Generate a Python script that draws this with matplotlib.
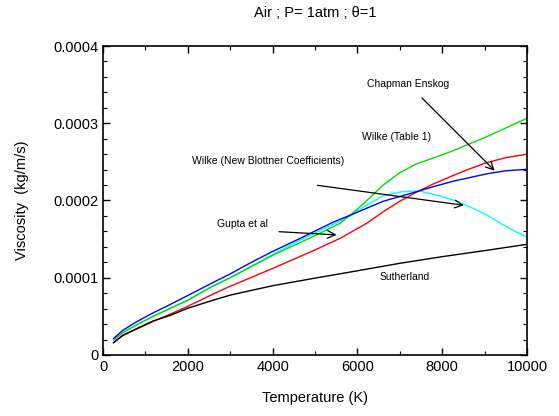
import matplotlib
matplotlib.use("Agg")
import matplotlib.pyplot as plt
from matplotlib.ticker import MultipleLocator, FuncFormatter

plt.rcParams['font.family'] = ['Liberation Sans', 'DejaVu Sans']

# curves (T in K, viscosity in kg/m/s)
t_sutherland = [250, 470, 790, 1180, 1570, 2000, 2600, 3000, 4000, 5000, 6000, 7000,
                8000, 9000, 10000]
mu_sutherland = [1.6e-5, 2.55e-5, 3.4e-5, 4.4e-5, 5.1e-5, 6.05e-5, 7.1e-5, 7.75e-5,
                 8.97e-5, 9.95e-5, 1.09e-4, 1.187e-4, 1.273e-4, 1.351e-4, 1.433e-4]

t_chapman = [250, 470, 790, 1180, 1570, 2000, 2600, 3000, 4000, 5000, 5590, 6220, 6610,
             7000, 7400, 7790, 8200, 8600, 9050, 9500, 10000]
mu_chapman = [1.6e-5, 2.55e-5, 3.35e-5, 4.35e-5, 5.25e-5, 6.3e-5, 7.9e-5, 8.9e-5, 1.12e-4,
              1.36e-4, 1.51e-4, 1.705e-4, 1.855e-4, 1.99e-4, 2.11e-4, 2.214e-4, 2.31e-4,
              2.40e-4, 2.49e-4, 2.555e-4, 2.6e-4]

t_blottner = [250, 470, 790, 1180, 1570, 2000, 2600, 3000, 3500, 4000, 4650, 5000, 5430,
              5830, 6610, 7400, 7800, 8260, 9050, 9500, 10000]
mu_blottner = [2.15e-5, 3.2e-5, 4.3e-5, 5.45e-5, 6.5e-5, 7.7e-5, 9.4e-5, 1.05e-4, 1.2e-4,
               1.34e-4, 1.51e-4, 1.605e-4, 1.72e-4, 1.81e-4, 1.99e-4, 2.115e-4, 2.18e-4,
               2.25e-4, 2.345e-4, 2.385e-4, 2.404e-4]

t_table1 = [250, 470, 790, 1180, 1570, 2000, 2600, 3000, 4000, 5000, 5590, 5980, 6300,
            6610, 7000, 7400, 7790, 8200, 9050, 10000]
mu_table1 = [1.94e-5, 2.9e-5, 3.9e-5, 5.0e-5, 6.0e-5, 7.1e-5, 8.95e-5, 1.0e-4, 1.29e-4,
             1.545e-4, 1.705e-4, 1.877e-4, 2.04e-4, 2.2e-4, 2.36e-4, 2.475e-4, 2.55e-4,
             2.632e-4, 2.826e-4, 3.064e-4]

t_gupta = [250, 470, 790, 1180, 1570, 2000, 2600, 3000, 4000, 4650, 5000, 5430, 5830,
           6220, 6610, 7000, 7240, 7480, 7870, 8260, 8650, 9050, 9440, 10000]
mu_gupta = [1.94e-5, 2.9e-5, 3.9e-5, 5.0e-5, 6.0e-5, 7.1e-5, 8.95e-5, 1.0e-4, 1.3e-4,
            1.49e-4, 1.58e-4, 1.69e-4, 1.8e-4, 1.94e-4, 2.06e-4, 2.11e-4, 2.12e-4, 2.12e-4,
            2.07e-4, 2.006e-4, 1.92e-4, 1.812e-4, 1.683e-4, 1.523e-4]

fig = plt.figure(figsize=(5.59, 4.16), dpi=100)
ax = fig.add_axes([103 / 559, 1 - 355 / 416, 424 / 559, 309 / 416])

ax.plot(t_gupta, mu_gupta, color='cyan', lw=1)
ax.plot(t_table1, mu_table1, color='#00dd00', lw=1)
ax.plot(t_chapman, mu_chapman, color='red', lw=1)
ax.plot(t_blottner, mu_blottner, color='blue', lw=1)
ax.plot(t_sutherland, mu_sutherland, color='black', lw=1)

ax.set_xlim(0, 10000)
ax.set_ylim(0, 0.0004)
ax.xaxis.set_major_locator(MultipleLocator(2000))
ax.xaxis.set_minor_locator(MultipleLocator(1000))
ax.yaxis.set_major_locator(MultipleLocator(0.0001))
ax.yaxis.set_minor_locator(MultipleLocator(0.00002))
ax.yaxis.set_major_formatter(FuncFormatter(lambda v, p: '0' if v == 0 else f'{v:.4f}'))
ax.tick_params(which='both', direction='in', top=True, right=True, labelsize=10.5)
ax.tick_params(which='major', length=5, width=1)
ax.tick_params(which='minor', length=3, width=0.8)
for s in ax.spines.values():
    s.set_linewidth(1.2)

ax.set_xlabel('Temperature (K)', fontsize=10.5, labelpad=12)
ax.set_ylabel('Viscosity  (kg/m/s)', fontsize=10.5, labelpad=17)
fig.text(315 / 559, 1 - 13 / 416, 'Air ; P= 1atm ; \u03b8=1', ha='center', va='center', fontsize=10.5)

arrow = dict(arrowstyle='->', color='black', lw=0.9, mutation_scale=14)
fs = 7.5
ax.annotate('Chapman Enskog', xy=(9285, 2.36e-4), xytext=(7201, 3.504e-4), fontsize=fs,
            ha='center', va='center', arrowprops=dict(arrow, shrinkA=6))
ax.text(6926, 2.818e-4, 'Wilke (Table 1)', fontsize=fs, ha='center', va='center')
ax.text(3884, 2.511e-4, 'Wilke (New Blottner Coefficients)', fontsize=fs, ha='center', va='center')
ax.annotate('', xy=(8577, 1.933e-4), xytext=(5055, 2.197e-4), arrowprops=dict(arrow, shrinkA=0))
ax.text(3294, 1.692e-4, 'Gupta et al', fontsize=fs, ha='center', va='center')
ax.annotate('', xy=(5574, 1.553e-4), xytext=(4151, 1.596e-4), arrowprops=dict(arrow, shrinkA=0))
ax.text(7123, 1.006e-4, 'Sutherland', fontsize=fs, ha='center', va='center')

fig.savefig('out.png', dpi=100)
